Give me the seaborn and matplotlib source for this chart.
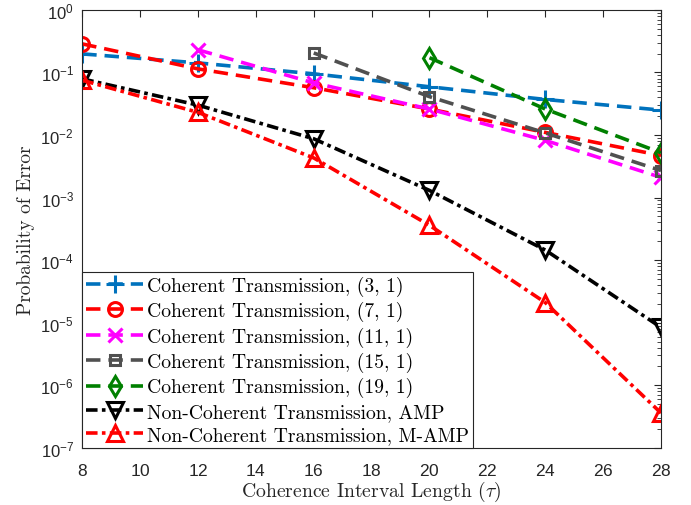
import numpy as np
import pandas as pd
import seaborn as sns
import matplotlib
matplotlib.use("Agg")
import matplotlib.pyplot as plt
from matplotlib.ticker import FixedLocator, NullFormatter

# Coherence interval lengths
tau = [8, 12, 16, 20, 24, 28]

# Probability of error for each scheme (None = not evaluated)
coh_3_1 = [0.198, 0.142, 0.095, 0.059, 0.037, 0.025]
coh_7_1 = [0.286, 0.114, 0.057, 0.026, 0.011, 0.0047]
coh_11_1 = [None, 0.23, 0.068, 0.026, 0.0082, 0.0021]
coh_15_1 = [None, None, 0.205, 0.041, 0.0108, 0.0027]
coh_19_1 = [None, None, None, 0.172, 0.026, 0.0052]
noncoh_amp = [0.079, 0.030, 0.0087, 0.0013, 1.45e-4, 8.4e-6]
noncoh_mamp = [0.075, 0.023, 0.0043, 3.6e-4, 2.1e-5, 3.6e-7]

labels = [
    "Coherent Transmission, (3, 1)",
    "Coherent Transmission, (7, 1)",
    "Coherent Transmission, (11, 1)",
    "Coherent Transmission, (15, 1)",
    "Coherent Transmission, (19, 1)",
    "Non-Coherent Transmission, AMP",
    "Non-Coherent Transmission, M-AMP",
]
series = [coh_3_1, coh_7_1, coh_11_1, coh_15_1, coh_19_1, noncoh_amp, noncoh_mamp]

colors = ["#0072BD", "#FF0000", "#FF00FF", "#505050", "#008000", "#000000", "#FF0000"]
markers = ["+", "o", "x", "s", "d", "v", "^"]
msizes = [13, 10, 10, 7, 10, 12, 12]
dash_long = (4, 2.2)
dash_dot = (3.2, 1.2, 1.0, 1.2)
dashes = [dash_long] * 5 + [dash_dot] * 2

sns.set_theme(style="white")
plt.rcParams["font.family"] = ["cmr10", "DejaVu Serif"]
plt.rcParams["mathtext.fontset"] = "custom"
plt.rcParams["mathtext.rm"] = "Liberation Sans"
plt.rcParams["mathtext.it"] = "Liberation Sans:italic"
plt.rcParams["axes.formatter.use_mathtext"] = True

fig = plt.figure(figsize=(6.91, 5.06), dpi=100)
ax = fig.add_axes([0.119, 0.113, 0.8376, 0.8655])

for lab, vals, c, m, ms, d in zip(labels, series, colors, markers, msizes, dashes):
    df = pd.DataFrame({"tau": tau, "pe": vals}).dropna()
    sns.lineplot(
        data=df, x="tau", y="pe", ax=ax, color=c, label=lab,
        marker=m, markersize=ms, markeredgewidth=2.2,
        markerfacecolor="none" if m not in ("+", "x") else c,
        markeredgecolor=c, linewidth=2.6, dashes=False, estimator=None,
    )
    ax.lines[-1].set_dashes(d)

ax.set_yscale("log")
ax.set_xlim(8, 28)
ax.set_ylim(1e-7, 1)
ax.set_xticks(range(8, 29, 2))
decades = np.arange(-7, 1)
ax.set_yticks([10.0 ** k for k in decades])
ax.set_yticklabels([rf"$10^{{{k}}}$" for k in decades])
minor = [s * 10.0 ** k for k in decades[:-1] for s in range(2, 10)]
ax.yaxis.set_minor_locator(FixedLocator(minor))
ax.yaxis.set_minor_formatter(NullFormatter())

tick_col = "#262626"
ax.tick_params(axis="both", which="both", direction="in", top=True, right=True,
               colors=tick_col, labelcolor=tick_col)
ax.tick_params(axis="both", which="major", length=5, width=0.8, labelsize=12)
ax.tick_params(axis="x", which="major", pad=10, labelsize=12.5)
ax.tick_params(axis="y", which="major", pad=6)
ax.tick_params(axis="y", which="minor", length=3, width=0.6)
for lbl in ax.get_xticklabels():
    lbl.set_family("Liberation Sans")
for sp in ax.spines.values():
    sp.set_color(tick_col)
    sp.set_linewidth(0.8)

ax.set_xlabel(r"Coherence Interval Length ($\tau$)", fontsize=14.2, color="#262626",
              labelpad=1, math_fontfamily="cm")
ax.set_ylabel("Probability of Error", fontsize=14, color="#262626", labelpad=4)

leg = ax.legend(loc="lower left", fontsize=14.1, frameon=True, fancybox=False,
                borderaxespad=0, handlelength=2.9, handletextpad=0.2,
                borderpad=0.2, labelspacing=0.27, framealpha=1)
leg.get_frame().set_edgecolor(tick_col)
leg.get_frame().set_linewidth(0.8)
for t in leg.get_texts():
    t.set_color("black")

fig.savefig("out.png", dpi=100)
